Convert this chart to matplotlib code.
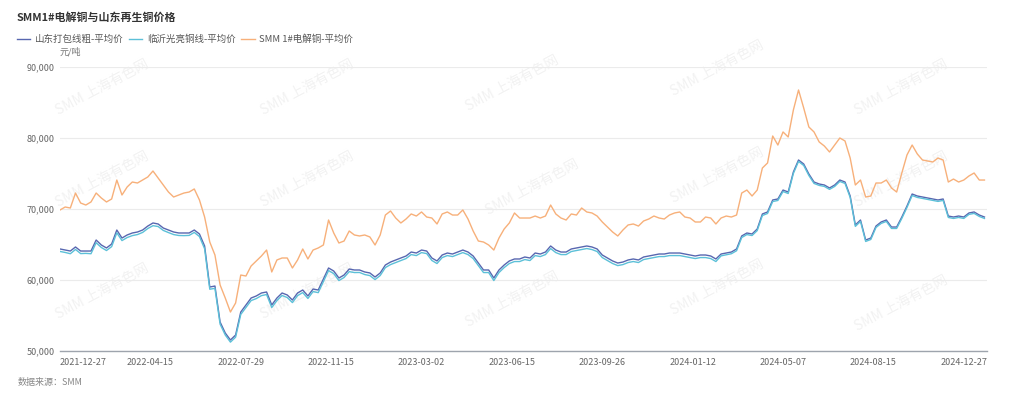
import numpy as np
import matplotlib.pyplot as plt

plt.rcParams['font.family'] = ['Noto Sans CJK SC', 'DejaVu Sans']

title = 'SMM1#电解铜与山东再生铜价格'
names = ['山东打包线粗-平均价', '临沂光亮铜线-平均价', 'SMM 1#电解铜-平均价']
colors = ['#5867b0', '#5cc0d8', '#f7b07a']

tick_dates = ['2021-12-27', '2022-04-15', '2022-07-29', '2022-11-15', '2023-03-02',
              '2023-06-15', '2023-09-26', '2024-01-12', '2024-05-07', '2024-08-15',
              '2024-12-27']
tick_every = 70   # trading days between axis labels
step = 4          # trading days between samples below

# yuan/ton, one value every 4 trading days
shandong = [
    64370, 64220, 64080, 64650, 64080, 64080, 64080, 65630, 64930, 64510,
    65070, 67040, 65910, 66340, 66620, 66760, 67040, 67600, 68030, 67890,
    67320, 67040, 66760, 66620, 66620, 66620, 67040, 66480, 64790, 59010,
    59150, 54080, 52530, 51550, 52250, 55490, 56480, 57460, 57750, 58170,
    58310, 56480, 57460, 58170, 57890, 57180, 58170, 58590, 57750, 58730,
    58590, 60140, 61690, 61270, 60280, 60700, 61550, 61410, 61410, 61130,
    60990, 60420, 60990, 62110, 62530, 62820, 63100, 63380, 63940, 63800,
    64220, 64080, 63100, 62680, 63520, 63800, 63660, 63940, 64220, 63940,
    63380, 62390, 61410, 61410, 60280, 61410, 62110, 62680, 62960, 62960,
    63240, 63100, 63800, 63660, 63940, 64790, 64220, 63940, 63940, 64370,
    64510, 64650, 64790, 64650, 64370, 63520, 63100, 62680, 62390, 62530,
    62820, 62960, 62820, 63240, 63380, 63520, 63660, 63660, 63800, 63800,
    63800, 63660, 63520, 63380, 63520, 63520, 63380, 62960, 63660, 63800,
    63940, 64370, 66200, 66620, 66480, 67180, 69300, 69580, 71270, 71410,
    72670, 72390, 75210, 76900, 76340, 74930, 73800, 73520, 73380, 72960,
    73380, 74080, 73800, 71830, 67750, 68450, 65630, 65910, 67600, 68170,
    68450, 67460, 67460, 68870, 70420, 72110, 71830, 71690, 71550, 71410,
    71270, 71410, 69010, 68870, 69010, 68870, 69440, 69580, 69150, 68870,
]
linyi = [
    64020, 63880, 63700, 64300, 63720, 63750, 63700, 65250, 64580, 64150,
    64700, 66650, 65550, 65980, 66250, 66400, 66700, 67250, 67650, 67530,
    66980, 66680, 66400, 66270, 66250, 66280, 66700, 66120, 64400, 58700,
    58820, 53780, 52250, 51250, 51950, 55150, 56120, 57100, 57380, 57800,
    57950, 56120, 57100, 57820, 57530, 56820, 57800, 58230, 57400, 58370,
    58220, 59780, 61330, 60900, 59920, 60350, 61180, 61050, 61060, 60770,
    60620, 60060, 60630, 61750, 62170, 62460, 62740, 63020, 63580, 63440,
    63860, 63720, 62750, 62320, 63160, 63440, 63300, 63580, 63860, 63580,
    63020, 62030, 61050, 61050, 59920, 61050, 61750, 62320, 62600, 62600,
    62880, 62740, 63440, 63300, 63580, 64430, 63860, 63580, 63580, 64010,
    64150, 64290, 64430, 64290, 64010, 63160, 62740, 62320, 62030, 62170,
    62460, 62600, 62460, 62880, 63020, 63160, 63300, 63300, 63440, 63440,
    63440, 63300, 63160, 63020, 63160, 63160, 63020, 62600, 63400, 63550,
    63700, 64120, 65980, 66400, 66260, 66960, 69080, 69370, 71050, 71200,
    72460, 72180, 75000, 76700, 76130, 74720, 73600, 73320, 73180, 72760,
    73180, 73880, 73600, 71630, 67550, 68250, 65430, 65710, 67400, 67970,
    68250, 67260, 67260, 68670, 70220, 71900, 71630, 71490, 71350, 71210,
    71070, 71210, 68810, 68670, 68810, 68670, 69240, 69380, 68950, 68670,
]
smm = [
    69860, 70280, 70140, 72250, 70840, 70560, 70990, 72250, 71550, 70990,
    71410, 74080, 71970, 73100, 73800, 73660, 74080, 74510, 75350, 74370,
    73380, 72390, 71690, 71970, 72250, 72390, 72820, 71270, 68870, 65350,
    63520, 59300, 57460, 55490, 56760, 60700, 60560, 61970, 62680, 63380,
    64220, 61130, 62820, 63100, 63100, 61690, 62820, 64370, 62960, 64220,
    64510, 64930, 68450, 66620, 65210, 65490, 66900, 66340, 66200, 66340,
    66060, 64930, 66340, 69150, 69720, 68730, 68030, 68590, 69300, 69010,
    69580, 68870, 68730, 67890, 69300, 69580, 69150, 69150, 69860, 68590,
    66900, 65490, 65350, 64930, 64220, 65910, 67180, 68030, 69440, 68730,
    68730, 68730, 69010, 68730, 69010, 70560, 69300, 68730, 68450, 69300,
    69150, 70140, 69580, 69440, 69010, 68170, 67460, 66760, 66200, 67040,
    67750, 67890, 67600, 68310, 68590, 69010, 68730, 68590, 69150, 69440,
    69580, 68870, 68730, 68170, 68170, 68870, 68730, 67890, 68730, 69010,
    68870, 69150, 72250, 72670, 71830, 72670, 75770, 76480, 80280, 79010,
    80850, 80140, 83940, 86760, 84230, 81550, 80850, 79440, 78870, 78030,
    79010, 80000, 79580, 77180, 73380, 74080, 71690, 71830, 73660, 73660,
    74080, 72960, 72390, 75070, 77610, 79010, 77750, 76900, 76760, 76620,
    77180, 76900, 73800, 74220, 73800, 74080, 74650, 75070, 74080, 74080,
]

x = np.arange(len(smm)) * step

fig = plt.figure(figsize=(10.24, 3.99), dpi=100)
ax = fig.add_axes([0.0586, 0.1203, 0.9053, 0.7118])

for xx, yy in [(0.10, 0.78), (0.30, 0.78), (0.50, 0.79), (0.70, 0.83), (0.88, 0.78),
               (0.10, 0.55), (0.30, 0.55), (0.52, 0.53), (0.70, 0.56), (0.88, 0.55),
               (0.10, 0.27), (0.30, 0.27), (0.50, 0.25), (0.70, 0.28), (0.88, 0.24)]:
    ax.text(xx, yy, 'SMM 上海有色网', transform=fig.transFigure, rotation=28,
            fontsize=10, color='#f2f2f2', ha='center', va='center', zorder=0.5)

for vals, name, c in zip([shandong, linyi, smm], names, colors):
    ax.plot(x, vals, color=c, lw=1.0, label=name, zorder=2)

ax.set_xlim(0, 718)
ax.set_ylim(50000, 90000)
ax.set_yticks(np.arange(50000, 90001, 10000))
ax.set_yticklabels([f'{v:,}' for v in range(50000, 90001, 10000)])
ax.set_xticks(np.arange(len(tick_dates)) * tick_every)
ax.set_xticklabels(tick_dates)
ax.get_xticklabels()[0].set_ha('left')

ax.yaxis.grid(True, color='#ebebeb', lw=0.8)
ax.set_axisbelow(True)
for s in ['top', 'right', 'left']:
    ax.spines[s].set_visible(False)
ax.spines['bottom'].set_color('#9ea4ad')
ax.spines['bottom'].set_linewidth(1.0)
ax.tick_params(axis='both', length=0, labelsize=6.5, labelcolor='#666666')
ax.tick_params(axis='x', pad=5)
ax.tick_params(axis='y', pad=4)

fig.text(17 / 1024, 1 - 18 / 399, title, fontsize=7.9, weight='bold', color='#333333', va='center')
fig.text(60 / 1024, 1 - 52 / 399, '元/吨', fontsize=6.5, color='#777777', va='center')
fig.text(18 / 1024, 1 - 382 / 399, '数据来源：SMM', fontsize=6.5, color='#888888', va='center')

fig.legend(loc='upper left', bbox_to_anchor=(0.008, 0.935), ncol=3, frameon=False,
           fontsize=6.8, handlelength=1.4, columnspacing=0.6, handletextpad=0.5,
           labelcolor='#555555')

fig.savefig('out.png', dpi=100)
